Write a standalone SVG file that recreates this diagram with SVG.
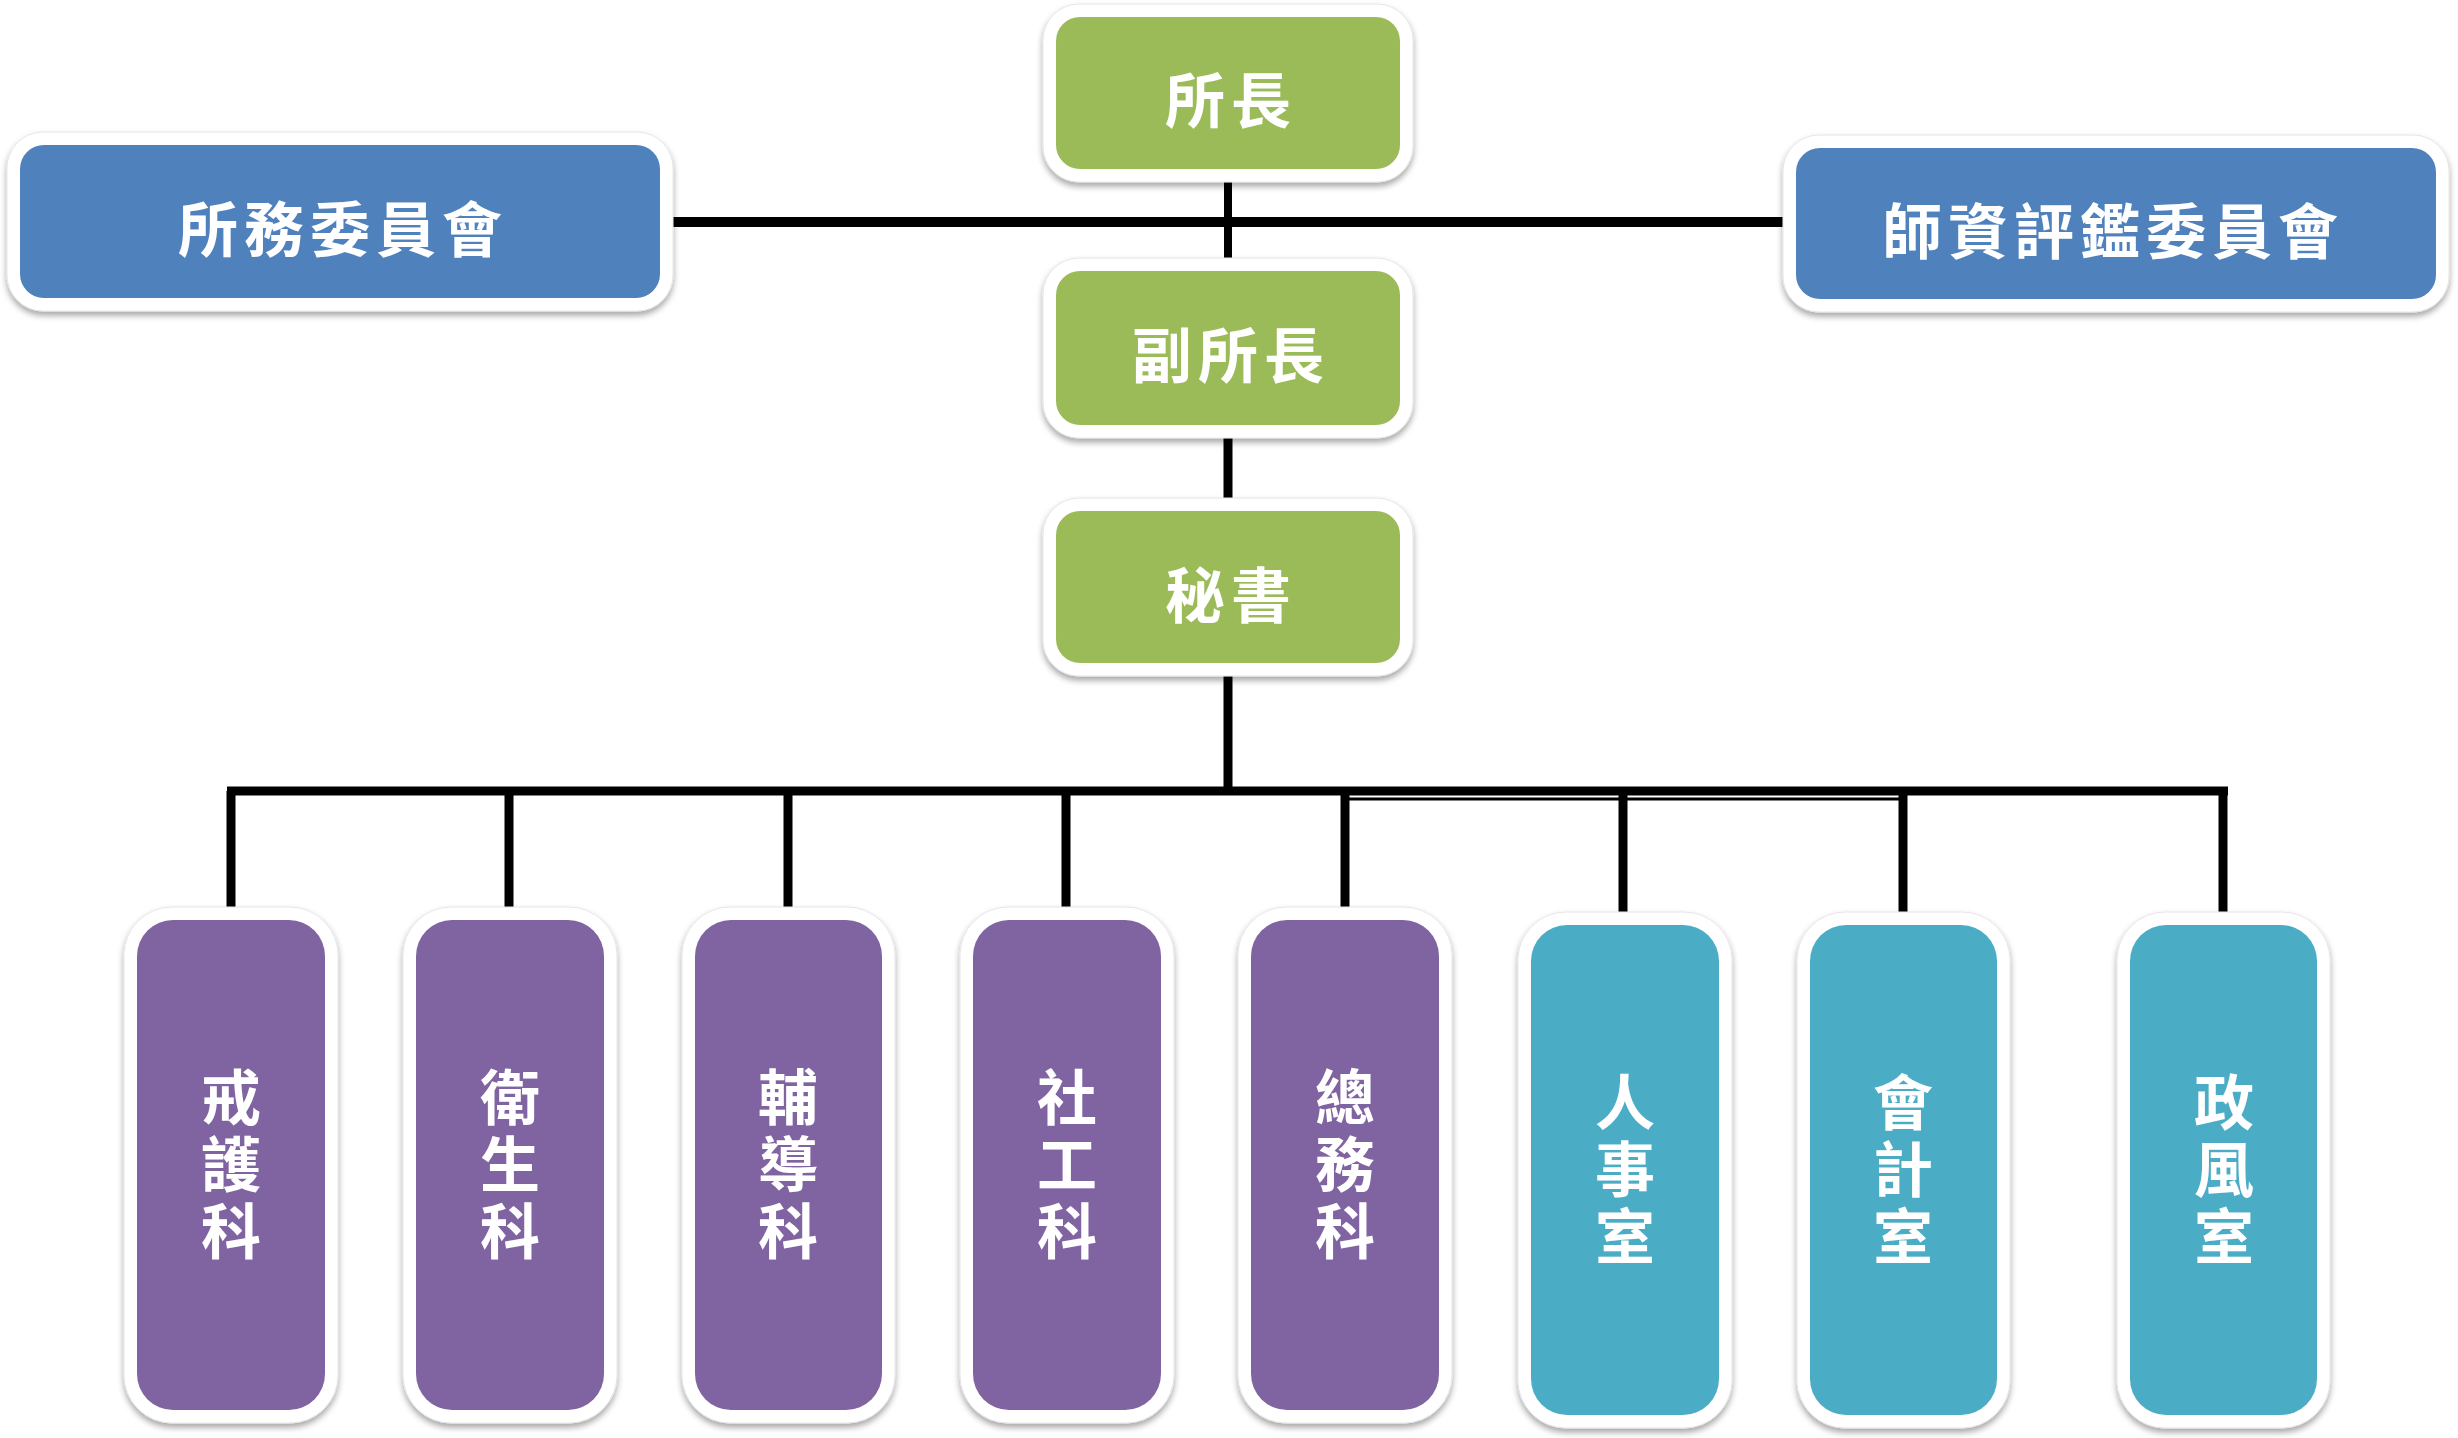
<svg xmlns="http://www.w3.org/2000/svg" width="2458" height="1438" viewBox="0 0 2458 1438">
<defs>
<filter id="sh" x="-10%" y="-10%" width="120%" height="125%">
<feDropShadow dx="0" dy="4" stdDeviation="3" flood-color="#000" flood-opacity="0.35"/>
</filter>
<style>
.outer{fill:#fff;stroke:#e6e6e6;stroke-width:1;filter:url(#sh)}
.green{fill:#9BBB59}
.blue{fill:#4F81BD}
.purple{fill:#8064A2}
.teal{fill:#4BACC6}
.t{font-family:"Noto Sans CJK TC","Noto Sans CJK SC",sans-serif;font-weight:700;font-size:60px;fill:#fff;text-anchor:middle;dominant-baseline:central}
.h{letter-spacing:6px}
.v{writing-mode:vertical-rl;letter-spacing:7px}
.ln{stroke:#000;fill:none;stroke-linecap:butt}
</style>
</defs>
<rect width="2458" height="1438" fill="#fff"/>
<g id="connectors">
<path class="ln" stroke-width="10" d="M664 222H1798"/>
<path class="ln" stroke-width="8" d="M1228 165V275"/>
<path class="ln" stroke-width="9" d="M1228 420V515"/>
<path class="ln" stroke-width="9" d="M1228 660V792"/>
<path class="ln" stroke-width="9" d="M227 791H2228"/>
<path class="ln" stroke-width="3" d="M1345 799H1905"/>
<path class="ln" stroke-width="9" d="M231 791V915M509 791V915M788 791V915M1066 791V915M1345 791V915M1623 791V920M1903 791V920M2223 791V920"/>
</g>
<g id="n-suozhang">
<rect class="outer" x="1043" y="4" width="370" height="178" rx="36"/>
<rect class="green" x="1056" y="17" width="344" height="152" rx="24"/>
<text class="t h" x="1231" y="96">所長</text>
</g>
<g id="n-fusuozhang">
<rect class="outer" x="1043" y="258" width="370" height="180" rx="36"/>
<rect class="green" x="1056" y="271" width="344" height="154" rx="24"/>
<text class="t h" x="1231" y="351">副所長</text>
</g>
<g id="n-mishu">
<rect class="outer" x="1043" y="498" width="370" height="178" rx="36"/>
<rect class="green" x="1056" y="511" width="344" height="152" rx="24"/>
<text class="t h" x="1231" y="591">秘書</text>
</g>
<g id="n-suowu">
<rect class="outer" x="7" y="132" width="666" height="179" rx="36"/>
<rect class="blue" x="20" y="145" width="640" height="153" rx="24"/>
<text class="t h" x="343" y="225">所務委員會</text>
</g>
<g id="n-shizi">
<rect class="outer" x="1783" y="135" width="666" height="177" rx="36"/>
<rect class="blue" x="1796" y="148" width="640" height="151" rx="24"/>
<text class="t h" x="2113" y="227">師資評鑑委員會</text>
</g>
<g id="n-jiehu">
<rect class="outer" x="124" y="907" width="214" height="516" rx="48"/>
<rect class="purple" x="137" y="920" width="188" height="490" rx="36"/>
<text class="t v" x="231" y="1168">戒護科</text>
</g>
<g id="n-weisheng">
<rect class="outer" x="403" y="907" width="214" height="516" rx="48"/>
<rect class="purple" x="416" y="920" width="188" height="490" rx="36"/>
<text class="t v" x="510" y="1168">衛生科</text>
</g>
<g id="n-fudao">
<rect class="outer" x="682" y="907" width="213" height="516" rx="48"/>
<rect class="purple" x="695" y="920" width="187" height="490" rx="36"/>
<text class="t v" x="788" y="1168">輔導科</text>
</g>
<g id="n-shegong">
<rect class="outer" x="960" y="907" width="214" height="516" rx="48"/>
<rect class="purple" x="973" y="920" width="188" height="490" rx="36"/>
<text class="t v" x="1067" y="1168">社工科</text>
</g>
<g id="n-zongwu">
<rect class="outer" x="1238" y="907" width="214" height="516" rx="48"/>
<rect class="purple" x="1251" y="920" width="188" height="490" rx="36"/>
<text class="t v" x="1345" y="1168">總務科</text>
</g>
<g id="n-renshi">
<rect class="outer" x="1518" y="912" width="214" height="516" rx="48"/>
<rect class="teal" x="1531" y="925" width="188" height="490" rx="36"/>
<text class="t v" x="1625" y="1173">人事室</text>
</g>
<g id="n-kuaiji">
<rect class="outer" x="1797" y="912" width="213" height="516" rx="48"/>
<rect class="teal" x="1810" y="925" width="187" height="490" rx="36"/>
<text class="t v" x="1903" y="1173">會計室</text>
</g>
<g id="n-zhengfeng">
<rect class="outer" x="2117" y="912" width="213" height="516" rx="48"/>
<rect class="teal" x="2130" y="925" width="187" height="490" rx="36"/>
<text class="t v" x="2224" y="1173">政風室</text>
</g>
</svg>
